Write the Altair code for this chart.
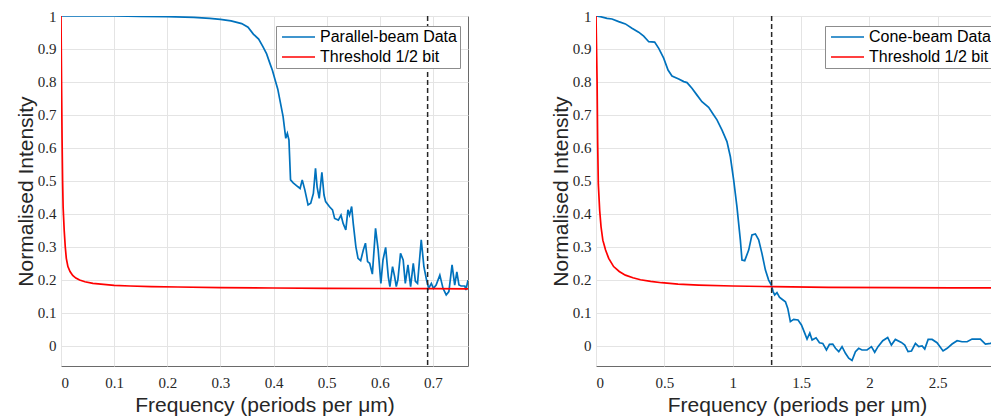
import altair as alt
import pandas as pd

# ---------------- data ----------------
left_blue_x = [0, 0.05, 0.1, 0.15, 0.2, 0.25, 0.28, 0.3, 0.32, 0.34,
               0.352, 0.362, 0.372, 0.380, 0.387, 0.393, 0.398, 0.403, 0.408, 0.412,
               0.418, 0.423, 0.426, 0.429, 0.432, 0.437, 0.446, 0.450, 0.454, 0.459,
               0.465, 0.470, 0.475, 0.479, 0.482, 0.486, 0.491, 0.495, 0.498, 0.505,
               0.511, 0.515, 0.522, 0.527, 0.531, 0.536, 0.540, 0.543, 0.547, 0.550,
               0.555, 0.559, 0.564, 0.569, 0.573, 0.577, 0.581, 0.586, 0.592, 0.597,
               0.602, 0.606, 0.611, 0.616, 0.619, 0.624, 0.628, 0.631, 0.634, 0.639,
               0.644, 0.648, 0.653, 0.658, 0.663, 0.667, 0.671, 0.678, 0.683, 0.688,
               0.692, 0.697, 0.701, 0.706, 0.713, 0.719, 0.725, 0.730, 0.736, 0.741,
               0.745, 0.749, 0.753, 0.760, 0.762, 0.766]
left_blue_y = [1.0, 1.0, 1.0, 0.999, 0.998, 0.996, 0.993, 0.99, 0.985, 0.977,
               0.966, 0.945, 0.93, 0.907, 0.885, 0.857, 0.835, 0.806, 0.778, 0.745,
               0.695, 0.629, 0.644, 0.624, 0.503, 0.494, 0.482, 0.477, 0.503, 0.472,
               0.427, 0.432, 0.462, 0.538, 0.482, 0.447, 0.526, 0.457, 0.437, 0.422,
               0.412, 0.386, 0.381, 0.396, 0.371, 0.351, 0.412, 0.396, 0.422, 0.371,
               0.300, 0.265, 0.258, 0.29, 0.311, 0.255, 0.25, 0.217, 0.356, 0.29,
               0.189, 0.26, 0.298, 0.209, 0.179, 0.24, 0.209, 0.179, 0.2, 0.28,
               0.26, 0.189, 0.245, 0.179, 0.25, 0.195, 0.189, 0.321, 0.24, 0.199,
               0.174, 0.189, 0.174, 0.184, 0.214, 0.174, 0.154, 0.164, 0.245, 0.184,
               0.224, 0.184, 0.181, 0.181, 0.169, 0.199]

left_red_x = [0, 0.001, 0.002, 0.003, 0.004, 0.006, 0.008, 0.010, 0.013, 0.017,
              0.022, 0.028, 0.035, 0.045, 0.06, 0.08, 0.1, 0.13, 0.17, 0.22,
              0.3, 0.4, 0.5, 0.6, 0.7, 0.766]
left_red_y = [1.0, 0.8, 0.63, 0.5, 0.42, 0.35, 0.3, 0.265, 0.24, 0.225,
              0.213, 0.205, 0.199, 0.194, 0.189, 0.186, 0.183, 0.181, 0.179, 0.178,
              0.176, 0.175, 0.174, 0.1735, 0.173, 0.1725]

right_blue_x = [0, 0.032, 0.081, 0.117, 0.166, 0.215, 0.263, 0.312, 0.349, 0.386,
                0.429, 0.459, 0.495, 0.527, 0.556, 0.605, 0.642, 0.666, 0.702, 0.739,
                0.775, 0.824, 0.861, 0.885, 0.922, 0.958, 0.983, 1.007, 1.031, 1.056,
                1.068, 1.088, 1.117, 1.141, 1.166, 1.190, 1.214, 1.239, 1.263, 1.283,
                1.295, 1.307, 1.324, 1.342, 1.361, 1.386, 1.403, 1.422, 1.446, 1.478,
                1.503, 1.527, 1.544, 1.564, 1.581, 1.610, 1.635, 1.659, 1.686, 1.708,
                1.732, 1.752, 1.776, 1.800, 1.825, 1.849, 1.873, 1.898, 1.922, 1.946,
                1.983, 2.015, 2.039, 2.063, 2.098, 2.134, 2.161, 2.190, 2.234, 2.259,
                2.283, 2.308, 2.337, 2.361, 2.386, 2.405, 2.430, 2.459, 2.495, 2.539,
                2.569, 2.605, 2.642, 2.678, 2.715, 2.751, 2.812, 2.849, 2.886, 2.917,
                2.953]
right_blue_y = [1.0, 0.998, 0.993, 0.991, 0.983, 0.976, 0.963, 0.951, 0.939, 0.922,
                0.921, 0.902, 0.872, 0.836, 0.818, 0.809, 0.801, 0.798, 0.781, 0.760,
                0.740, 0.723, 0.700, 0.685, 0.654, 0.619, 0.573, 0.503, 0.422, 0.321,
                0.260, 0.258, 0.290, 0.336, 0.339, 0.321, 0.280, 0.230, 0.199, 0.184,
                0.165, 0.154, 0.161, 0.147, 0.141, 0.133, 0.113, 0.073, 0.080, 0.078,
                0.063, 0.038, 0.020, 0.038, 0.017, 0.024, 0.009, 0.007, -0.013, 0.004,
                0.005, -0.008, -0.018, -0.003, -0.023, -0.038, -0.045, -0.018, -0.008, -0.013,
                -0.013, -0.003, -0.020, -0.003, 0.015, 0.025, 0.002, 0.019, 0.010, 0.002,
                -0.018, -0.016, 0.007, -0.003, -0.001, -0.010, 0.019, 0.019, 0.009, -0.016,
                -0.008, 0.005, 0.015, 0.012, 0.012, 0.020, 0.020, 0.005, 0.007, 0.012,
                0.007]

right_red_x = [0, 0.004, 0.008, 0.012, 0.017, 0.027, 0.037, 0.05, 0.07, 0.093,
               0.129, 0.17, 0.215, 0.27, 0.325, 0.4, 0.48, 0.6, 0.75, 1.0,
               1.3, 1.7, 2.2, 2.6, 2.96]
right_red_y = [1.0, 0.9, 0.8, 0.62, 0.49, 0.41, 0.36, 0.32, 0.29, 0.265,
               0.24, 0.225, 0.214, 0.206, 0.2, 0.195, 0.191, 0.187, 0.184, 0.181,
               0.179, 0.177, 0.176, 0.1755, 0.175]

left_cutoff = [0.69]
right_cutoff = [1.285]

left_series = ["Parallel-beam Data", "Threshold 1/2 bit"]
right_series = ["Cone-beam Data", "Threshold 1/2 bit"]
colors = ["#0072BD", "#FF0000"]

left_xticks = [0, 0.1, 0.2, 0.3, 0.4, 0.5, 0.6, 0.7]
right_xticks = [0, 0.5, 1, 1.5, 2, 2.5]
yticks = [0, 0.1, 0.2, 0.3, 0.4, 0.5, 0.6, 0.7, 0.8, 0.9, 1]

X_TITLE = "Frequency (periods per μm)"
Y_TITLE = "Normalised Intensity"
SERIF = "Liberation Serif"
SANS = "Liberation Sans"


def panel(bx, by, rx, ry, series, cut, xdom, xticks, legend_x, width):
    df = pd.concat([
        pd.DataFrame({"x": bx, "y": by, "s": series[0]}),
        pd.DataFrame({"x": rx, "y": ry, "s": series[1]}),
    ], ignore_index=True)
    df["o"] = range(len(df))
    xscale = alt.Scale(domain=xdom, nice=False, zero=False)
    yscale = alt.Scale(domain=[-0.0616, 1], nice=False, zero=False)
    lines = alt.Chart(df).mark_line(strokeWidth=1.7, clip=True).encode(
        x=alt.X("x:Q", scale=xscale,
                axis=alt.Axis(values=xticks, format="~g", title=X_TITLE,
                              labelFont=SERIF, labelFontSize=15,
                              labelPadding=9, titlePadding=4)),
        y=alt.Y("y:Q", scale=yscale,
                axis=alt.Axis(values=yticks, format="~g", title=Y_TITLE,
                              labelFont=SERIF, labelFontSize=15,
                              labelPadding=5, titlePadding=1,
                              minExtent=24, maxExtent=24)),
        color=alt.Color(
            "s:N",
            scale=alt.Scale(domain=series, range=colors),
            legend=alt.Legend(
                title=None, orient="none", legendX=legend_x, legendY=10,
                symbolType="M-0.83,0H4.67", symbolSize=144,
                symbolStrokeWidth=1.7, labelFont=SANS,
                labelFontSize=16, labelColor="black", labelOffset=25,
                padding=3, rowPadding=4, fillColor="white",
                strokeColor="#8c8c8c", labelLimit=300,
            ),
        ),
        order="o:Q",
    )
    rule = alt.Chart(pd.DataFrame({"x": cut})).mark_rule(
        strokeDash=[5, 3], color="#262626", strokeWidth=1.5
    ).encode(x="x:Q")
    return alt.layer(lines, rule).properties(width=width, height=350)


left = panel(left_blue_x, left_blue_y, left_red_x, left_red_y, left_series,
             left_cutoff, [0, 0.766], left_xticks, 215, 407)
right = panel(right_blue_x, right_blue_y, right_red_x, right_red_y, right_series,
              right_cutoff, [0, 2.941], right_xticks, 229, 402)

chart = alt.hconcat(left, right, spacing=80).resolve_scale(
    color="independent", x="independent", y="independent"
).properties(
    padding={"left": 6, "top": 0, "right": -8, "bottom": 0}
).configure_axis(
    grid=True, gridColor="#e4e4e4", domain=False, ticks=False,
    labelFont=SERIF, labelFontSize=15, labelColor="#262626",
    titleFont=SANS, titleFontSize=21, titleFontWeight="normal",
    titleColor="#262626",
).configure_view(
    stroke="#6a6a6a", strokeWidth=1
)

chart.save("out.html", embed_options={"renderer": "svg", "actions": False})
